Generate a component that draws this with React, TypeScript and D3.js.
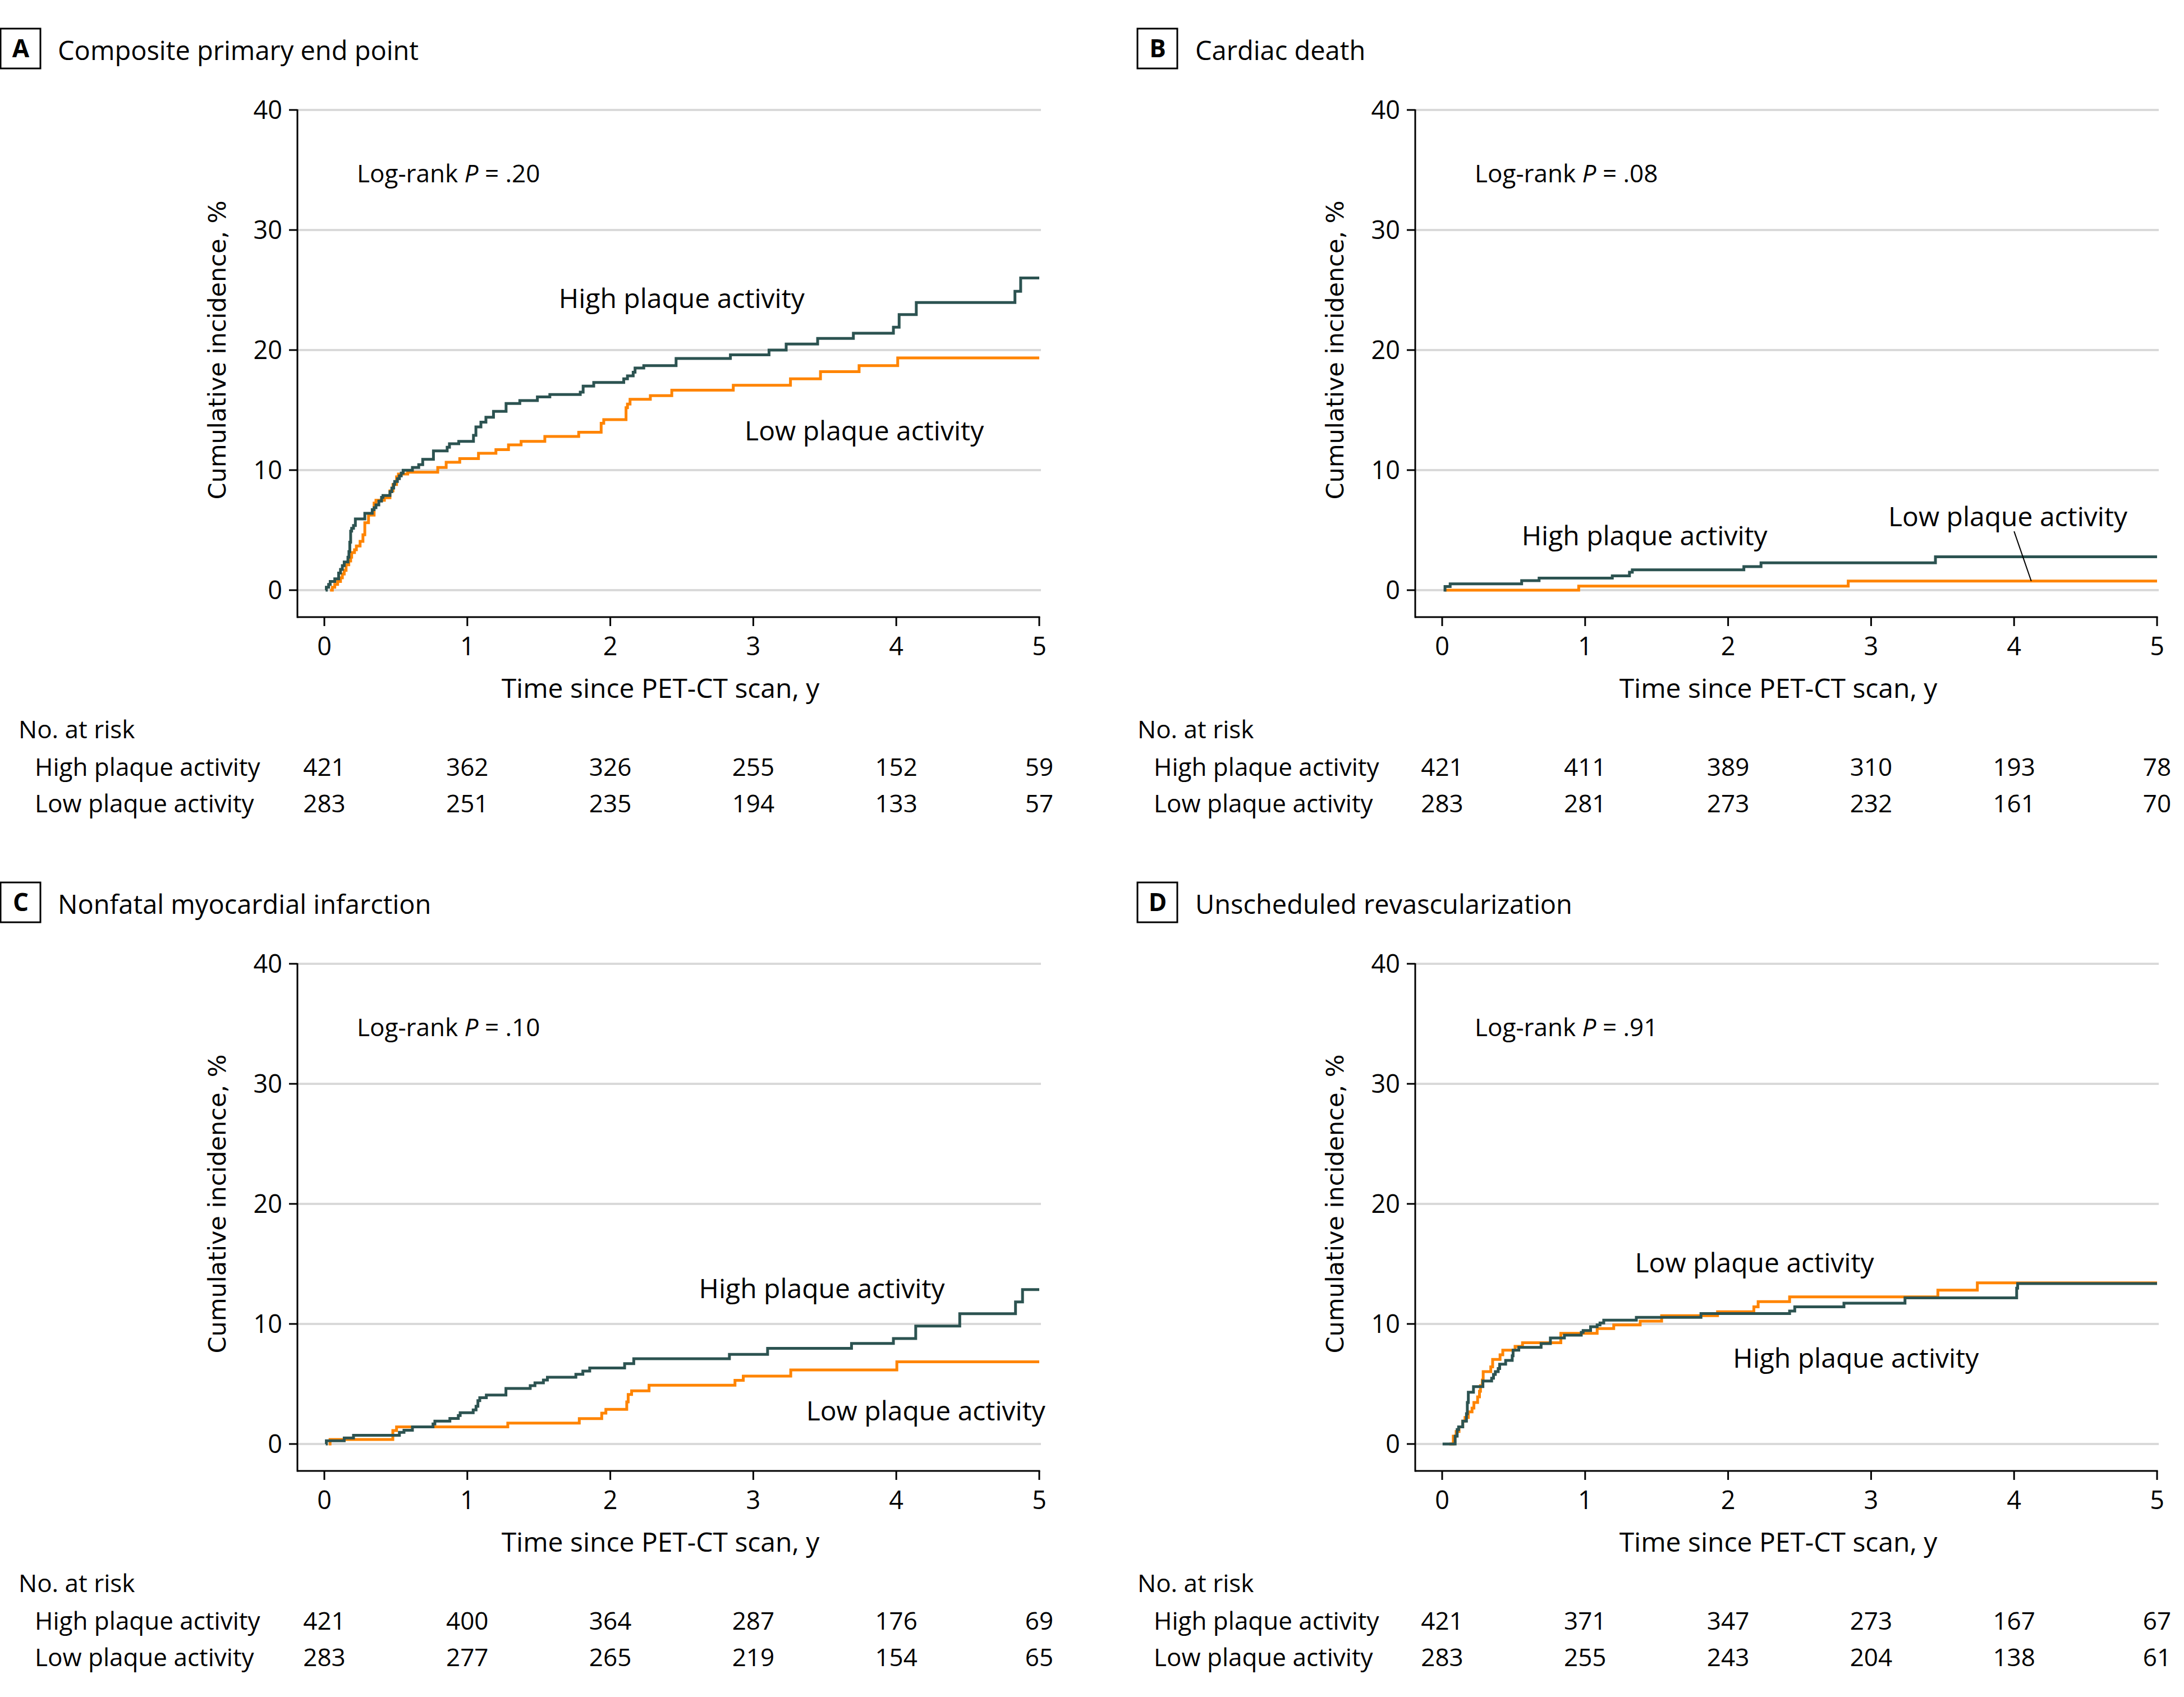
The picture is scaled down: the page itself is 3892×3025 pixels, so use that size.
import React from 'react';
import * as d3 from 'd3';

type Pt = [number, number];

const timeTicks = [0, 1, 2, 3, 4, 5];
const incidenceTicks = [0, 10, 20, 30, 40];
const panelLetters = ['A', 'B', 'C', 'D'];
const panelTitles = [
  'Composite primary end point',
  'Cardiac death',
  'Nonfatal myocardial infarction',
  'Unscheduled revascularization',
];
const logRankP = ['.20', '.08', '.10', '.91'];
const groupNames = ['High plaque activity', 'Low plaque activity'];

// Panel A – composite primary end point (time in years, cumulative incidence %)
const compositeHigh: Pt[] = [
  [0.009, 0], [0.014, 0.25], [0.03, 0.48], [0.041, 0.72], [0.073, 0.95], [0.1, 1.42], [0.113, 1.73],
  [0.126, 2.04], [0.139, 2.35], [0.165, 2.74], [0.172, 3.21], [0.178, 3.99], [0.184, 4.92], [0.191, 5.15],
  [0.204, 5.39], [0.217, 5.93], [0.283, 6.4], [0.335, 6.71], [0.348, 6.87], [0.361, 7.1], [0.381, 7.42],
  [0.4, 7.73], [0.41, 7.88], [0.459, 8.2], [0.472, 8.5], [0.485, 8.82], [0.492, 9.05], [0.511, 9.29],
  [0.525, 9.52], [0.538, 9.75], [0.551, 9.99], [0.616, 10.22], [0.66, 10.45], [0.688, 10.9], [0.763, 11.6],
  [0.859, 11.9], [0.875, 12.2], [0.94, 12.4], [1.043, 12.9], [1.06, 13.6], [1.095, 14.0], [1.13, 14.4],
  [1.183, 14.9], [1.271, 15.55], [1.367, 15.8], [1.49, 16.1], [1.577, 16.3], [1.79, 16.5], [1.81, 17.0],
  [1.884, 17.3], [2.094, 17.6], [2.12, 17.85], [2.16, 18.15], [2.173, 18.5], [2.234, 18.7], [2.46, 19.3],
  [2.84, 19.6], [3.11, 20.0], [3.23, 20.5], [3.45, 20.97], [3.7, 21.4], [3.98, 21.9], [4.02, 22.96],
  [4.14, 23.96], [4.83, 24.9], [4.87, 26.0],
];
const compositeLow: Pt[] = [
  [0.04, 0], [0.056, 0.25], [0.073, 0.48], [0.093, 0.72], [0.113, 1.03], [0.126, 1.34], [0.139, 1.65],
  [0.152, 2.12], [0.171, 2.43], [0.184, 2.74], [0.191, 3.13], [0.211, 3.36], [0.224, 3.68], [0.25, 4.07],
  [0.27, 4.61], [0.283, 5.62], [0.309, 6.25], [0.348, 7.26], [0.361, 7.49], [0.42, 7.7], [0.459, 8.27],
  [0.48, 8.8], [0.505, 9.44], [0.518, 9.67], [0.583, 9.83], [0.793, 10.22], [0.852, 10.65], [0.947, 10.96],
  [1.078, 11.4], [1.2, 11.7], [1.288, 12.1], [1.376, 12.4], [1.542, 12.8], [1.779, 13.15], [1.936, 13.9],
  [1.954, 14.2], [2.11, 15.2], [2.12, 15.5], [2.138, 15.9], [2.28, 16.2], [2.43, 16.66], [2.86, 17.07],
  [3.26, 17.6], [3.47, 18.2], [3.74, 18.7], [4.01, 19.35],
];

// Panel B – cardiac death
const cardiacHigh: Pt[] = [
  [0.01, 0], [0.02, 0.3], [0.056, 0.53], [0.556, 0.8], [0.678, 1.0], [1.19, 1.19], [1.31, 1.5],
  [1.33, 1.69], [2.11, 1.96], [2.23, 2.28], [3.45, 2.78],
];
const cardiacLow: Pt[] = [[0.02, 0], [0.955, 0.34], [2.84, 0.76]];

// Panel C – nonfatal myocardial infarction
const infarctionHigh: Pt[] = [
  [0.01, 0], [0.014, 0.27], [0.139, 0.5], [0.204, 0.73], [0.525, 0.97], [0.557, 1.15], [0.616, 1.43],
  [0.76, 1.67], [0.773, 1.9], [0.878, 2.13], [0.937, 2.37], [0.95, 2.6], [1.041, 2.84], [1.061, 3.14],
  [1.074, 3.61], [1.087, 3.85], [1.133, 4.08], [1.27, 4.63], [1.44, 4.86], [1.473, 5.09], [1.532, 5.33],
  [1.56, 5.56], [1.759, 5.81], [1.808, 6.07], [1.856, 6.33], [2.1, 6.69], [2.164, 7.1], [2.833, 7.46],
  [3.1, 7.97], [3.687, 8.38], [3.98, 8.79], [4.136, 9.82], [4.444, 10.85], [4.834, 11.83], [4.883, 12.86],
];
const infarctionLow: Pt[] = [
  [0.03, 0], [0.04, 0.37], [0.479, 1.12], [0.505, 1.43], [1.283, 1.74], [1.783, 2.11], [1.94, 2.57],
  [1.969, 2.88], [2.115, 3.5], [2.125, 4.12], [2.149, 4.43], [2.271, 4.89], [2.872, 5.3], [2.93, 5.66],
  [3.262, 6.17], [4.004, 6.84],
];

// Panel D – unscheduled revascularization
const revascHigh: Pt[] = [
  [0.003, 0], [0.091, 0.65], [0.105, 1.2], [0.115, 1.43], [0.144, 1.9], [0.17, 2.52], [0.176, 3.46],
  [0.183, 4.31], [0.219, 4.78], [0.285, 5.25], [0.346, 5.48], [0.359, 5.79], [0.372, 6.03], [0.392, 6.29],
  [0.402, 6.65], [0.444, 6.96], [0.49, 7.35], [0.496, 7.82], [0.536, 8.05], [0.692, 8.36], [0.757, 8.83],
  [0.855, 9.07], [0.973, 9.3], [0.986, 9.45], [1.038, 9.77], [1.084, 9.92], [1.104, 10.08], [1.13, 10.31],
  [1.358, 10.55], [1.81, 10.87], [2.43, 11.08], [2.466, 11.42], [2.81, 11.73], [3.237, 12.17],
  [4.018, 12.98], [4.025, 13.37],
];
const revascLow: Pt[] = [
  [0.05, 0], [0.078, 0.65], [0.098, 1.04], [0.118, 1.43], [0.144, 1.9], [0.16, 2.21], [0.183, 2.68],
  [0.209, 2.99], [0.222, 3.46], [0.248, 3.93], [0.261, 4.39], [0.268, 4.86], [0.281, 5.33], [0.287, 6.03],
  [0.34, 6.42], [0.353, 7.04], [0.405, 7.43], [0.424, 7.82], [0.51, 8.13], [0.562, 8.44], [0.83, 9.22],
  [1.084, 9.61], [1.2, 9.92], [1.385, 10.23], [1.535, 10.69], [1.926, 11.02], [2.18, 11.42], [2.21, 11.86],
  [2.43, 12.25], [3.467, 12.82], [3.743, 13.42],
];

// Numbers at risk at years 0..5
const riskCompositeHigh = [421, 362, 326, 255, 152, 59];
const riskCompositeLow = [283, 251, 235, 194, 133, 57];
const riskCardiacHigh = [421, 411, 389, 310, 193, 78];
const riskCardiacLow = [283, 281, 273, 232, 161, 70];
const riskInfarctionHigh = [421, 400, 364, 287, 176, 69];
const riskInfarctionLow = [283, 277, 265, 219, 154, 65];
const riskRevascHigh = [421, 371, 347, 273, 167, 67];
const riskRevascLow = [283, 255, 243, 204, 138, 61];

const FONT = "'Open Sans', 'Noto Sans', sans-serif";
const YFONT = "'DejaVu Sans', 'Open Sans', sans-serif";
const DARK = '#2c5351';
const ORANGE = '#ff8400';
const GRID = '#d9d9d9';

interface PanelCfg {
  letter: string;
  title: string;
  p: string;
  high: Pt[];
  low: Pt[];
  riskHigh: number[];
  riskLow: number[];
  ox: number;
  oy: number;
  boxX: number;
  titleX: number;
  tableX: number;
  highLabel: Pt;
  lowLabel: Pt;
  leader?: [Pt, Pt];
}

const panels: PanelCfg[] = [
  {
    letter: panelLetters[0], title: panelTitles[0], p: logRankP[0], high: compositeHigh, low: compositeLow,
    riskHigh: riskCompositeHigh, riskLow: riskCompositeLow, ox: 0, oy: 0, boxX: 1, titleX: 103, tableX: 33,
    highLabel: [1.64, 23.5], lowLabel: [2.94, 12.5],
  },
  {
    letter: panelLetters[1], title: panelTitles[1], p: logRankP[1], high: cardiacHigh, low: cardiacLow,
    riskHigh: riskCardiacHigh, riskLow: riskCardiacLow, ox: 1992, oy: 0, boxX: 2027, titleX: 2130, tableX: 2027,
    highLabel: [0.556, 3.75], lowLabel: [3.12, 5.33], leader: [[4.0, 4.9], [4.12, 0.76]],
  },
  {
    letter: panelLetters[2], title: panelTitles[2], p: logRankP[2], high: infarctionHigh, low: infarctionLow,
    riskHigh: riskInfarctionHigh, riskLow: riskInfarctionLow, ox: 0, oy: 1522, boxX: 1, titleX: 103, tableX: 33,
    highLabel: [2.62, 12.15], lowLabel: [3.37, 1.96],
  },
  {
    letter: panelLetters[3], title: panelTitles[3], p: logRankP[3], high: revascHigh, low: revascLow,
    riskHigh: riskRevascHigh, riskLow: riskRevascLow, ox: 1992, oy: 1522, boxX: 2027, titleX: 2130, tableX: 2027,
    highLabel: [2.034, 6.36], lowLabel: [1.348, 14.3],
  },
];

function Panel({ cfg }: { cfg: PanelCfg }) {
  const { ox, oy } = cfg;
  const x = d3.scaleLinear().domain([0, 5]).range([578 + ox, 1852 + ox]);
  const y = d3.scaleLinear().domain([0, 40]).range([1052 + oy, 196 + oy]);
  const line = d3
    .line<Pt>()
    .x((d) => x(d[0]))
    .y((d) => y(d[1]))
    .curve(d3.curveStepAfter);
  const ext = (pts: Pt[]): Pt[] => [...pts, [5, pts[pts.length - 1][1]]];
  const axisX = 530 + ox;
  const axisY = 1100 + oy;

  return (
    <g>
      {/* Title */}
      <rect x={cfg.boxX} y={51 + oy} width={71} height={71} fill="none" stroke="#000" strokeWidth={3} />
      <text x={cfg.boxX + 36} y={102 + oy} textAnchor="middle" fontFamily={FONT} fontWeight={700} fontSize={44}>
        {cfg.letter}
      </text>
      <text x={cfg.titleX} y={107 + oy} fontFamily={FONT} fontSize={47}>
        {cfg.title}
      </text>

      {/* Grid */}
      {incidenceTicks.map((t) => (
        <line key={'g' + t} x1={axisX} x2={x(5) + 3} y1={y(t)} y2={y(t)} stroke={GRID} strokeWidth={4} />
      ))}

      {/* Y axis */}
      <line x1={axisX} x2={axisX} y1={y(40) - 1} y2={axisY + 1.5} stroke="#000" strokeWidth={3} />
      {incidenceTicks.map((t) => (
        <g key={'yt' + t}>
          <line x1={axisX - 15} x2={axisX} y1={y(t)} y2={y(t)} stroke="#000" strokeWidth={3} />
          <text x={axisX - 27} y={y(t) + 16} textAnchor="end" fontFamily={FONT} fontSize={45}>
            {t}
          </text>
        </g>
      ))}
      <text
        transform={`translate(${402 + ox},${(y(0) + y(40)) / 2}) rotate(-90)`}
        textAnchor="middle"
        fontFamily={YFONT}
        fontSize={43}
      >
        Cumulative incidence, %
      </text>

      {/* X axis */}
      <line x1={axisX} x2={x(5) + 1.5} y1={axisY} y2={axisY} stroke="#000" strokeWidth={3} />
      {timeTicks.map((t) => (
        <g key={'xt' + t}>
          <line x1={x(t)} x2={x(t)} y1={axisY} y2={axisY + 16} stroke="#000" strokeWidth={3} />
          <text x={x(t)} y={1168 + oy} textAnchor="middle" fontFamily={FONT} fontSize={45}>
            {t}
          </text>
        </g>
      ))}
      <text x={1177 + ox} y={1244 + oy} textAnchor="middle" fontFamily={FONT} fontSize={48}>
        Time since PET-CT scan, y
      </text>

      {/* Curves */}
      <path d={line(ext(cfg.low)) || ''} fill="none" stroke={ORANGE} strokeWidth={5} />
      <path d={line(ext(cfg.high)) || ''} fill="none" stroke={DARK} strokeWidth={5} />

      {/* Annotations */}
      <text x={x(0.228)} y={y(33.97)} fontFamily={FONT} fontSize={44}>
        Log-rank <tspan fontStyle="italic">P</tspan> = {cfg.p}
      </text>
      <text x={x(cfg.highLabel[0])} y={y(cfg.highLabel[1])} fontFamily={FONT} fontSize={48}>
        {groupNames[0]}
      </text>
      <text x={x(cfg.lowLabel[0])} y={y(cfg.lowLabel[1])} fontFamily={FONT} fontSize={48}>
        {groupNames[1]}
      </text>
      {cfg.leader && (
        <line
          x1={x(cfg.leader[0][0])}
          y1={y(cfg.leader[0][1])}
          x2={x(cfg.leader[1][0])}
          y2={y(cfg.leader[1][1])}
          stroke="#000"
          strokeWidth={2}
        />
      )}

      {/* Numbers at risk */}
      <text x={cfg.tableX} y={1316 + oy} fontFamily={FONT} fontSize={44}>
        No. at risk
      </text>
      <text x={cfg.tableX + 29} y={1383 + oy} fontFamily={FONT} fontSize={44}>
        {groupNames[0]}
      </text>
      <text x={cfg.tableX + 29} y={1448 + oy} fontFamily={FONT} fontSize={44}>
        {groupNames[1]}
      </text>
      {cfg.riskHigh.map((n, i) => (
        <text key={'rh' + i} x={x(timeTicks[i])} y={1383 + oy} textAnchor="middle" fontFamily={FONT} fontSize={44}>
          {n}
        </text>
      ))}
      {cfg.riskLow.map((n, i) => (
        <text key={'rl' + i} x={x(timeTicks[i])} y={1448 + oy} textAnchor="middle" fontFamily={FONT} fontSize={44}>
          {n}
        </text>
      ))}
    </g>
  );
}

export default function App() {
  return (
    <svg
      width={3892}
      height={3025}
      viewBox="0 0 3892 3025"
      style={{ position: 'absolute', left: 0, top: 0, background: '#fff' }}
    >
      <rect x={0} y={0} width={3892} height={3025} fill="#fff" />
      {panels.map((p) => (
        <Panel key={p.letter} cfg={p} />
      ))}
    </svg>
  );
}
